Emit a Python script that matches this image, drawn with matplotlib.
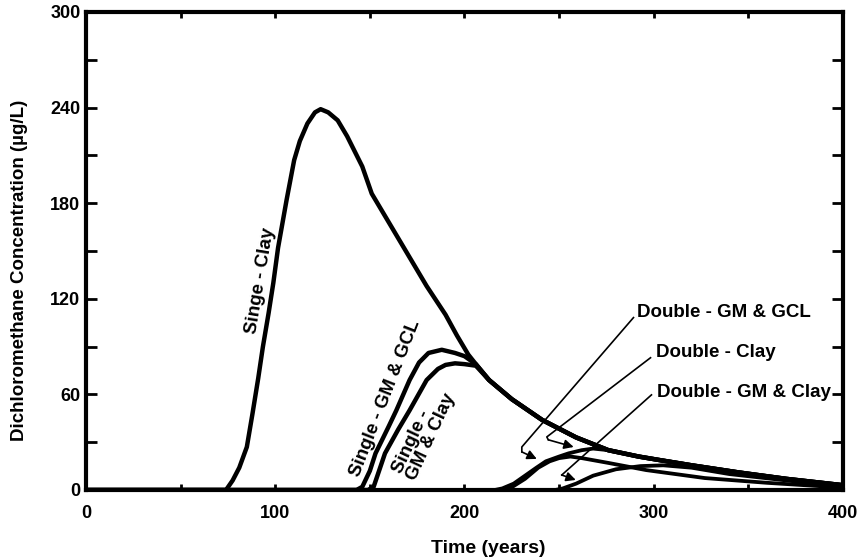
import numpy as np
import matplotlib
matplotlib.use("Agg")
import matplotlib.pyplot as plt

plt.rcParams["font.family"] = ["Liberation Sans", "DejaVu Sans"]
plt.rcParams["font.weight"] = "bold"
plt.rcParams["axes.labelweight"] = "bold"

# Single liner - clay
clay_x = [0, 74, 77.5, 81, 85, 88, 91, 93.5, 96.5, 99, 101.5, 106, 110, 113, 117, 121, 124,
          128, 133, 138, 146, 151, 160, 170, 180, 190, 196, 202, 206, 213, 225, 241, 259, 276,
          292, 302, 320, 345, 370, 400]
clay_y = [0, 0, 6, 14, 27, 48, 70, 90, 111, 130, 152, 182, 207, 219, 230, 237, 239,
          237, 232, 222, 203, 186, 168, 148, 128, 110, 97, 85, 79, 69, 57, 44, 33, 25,
          21, 19, 15.5, 11, 7, 3]

# tail shared by the single GM curves after they join the clay curve
tail_x = [213, 225, 241, 259, 276, 292, 302, 320, 345, 370, 400]
tail_y = [69, 57, 44, 33, 25, 21, 19, 15.5, 11, 7, 3]

gm_gcl_x = [0, 143, 146, 150, 153, 160, 164, 171, 176, 181, 188, 195, 200, 206]
gm_gcl_y = [0, 0, 2, 12, 23, 40, 50, 69, 80, 86, 88, 86, 84, 79]

gm_clay_x = [0, 149, 152, 158, 165, 171, 180, 186, 190, 195, 200, 206]
gm_clay_y = [0, 0, 2, 23, 38, 50, 69, 76, 78.5, 79.5, 79, 78]

# double liners
d_gcl_x = [0, 216, 220, 226, 232, 238, 243, 250, 255, 262, 268, 276, 292, 302, 320, 345, 370, 400]
d_gcl_y = [0, 0, 1, 4, 9, 14, 18, 21, 23, 25, 26, 25, 21, 19, 15.5, 11, 7, 3]

d_clay_x = [0, 220, 224, 232, 239, 245, 250, 256, 262, 276, 296, 327, 360, 400]
d_clay_y = [0, 0, 1, 7, 14, 18, 20, 21, 20, 17, 12.5, 7.5, 4.5, 1.5]

d_gmclay_x = [0, 248, 252, 259, 268, 280, 293, 305, 320, 340, 370, 400]
d_gmclay_y = [0, 0, 1, 4, 9, 13, 15, 15.5, 14, 10, 6, 2]


def main():
    fig = plt.figure(figsize=(8.58, 5.6), dpi=100)
    ax = fig.add_axes([0.1002, 0.125, 0.8823, 0.8536])

    lw = 3.2
    ax.plot(clay_x, clay_y, color="black", lw=lw, solid_joinstyle="round")
    ax.plot(gm_gcl_x + tail_x, gm_gcl_y + tail_y, color="black", lw=lw, solid_joinstyle="round")
    ax.plot(gm_clay_x + tail_x, gm_clay_y + tail_y, color="black", lw=lw, solid_joinstyle="round")
    ax.plot(d_gcl_x, d_gcl_y, color="black", lw=lw * 0.85, solid_joinstyle="round")
    ax.plot(d_clay_x, d_clay_y, color="black", lw=lw * 0.85, solid_joinstyle="round")
    ax.plot(d_gmclay_x, d_gmclay_y, color="black", lw=lw * 0.85, solid_joinstyle="round")

    ax.set_xlim(0, 400)
    ax.set_ylim(0, 300)
    ax.set_xticks([0, 100, 200, 300, 400])
    ax.set_xticks([50, 150, 250, 350], minor=True)
    ax.set_yticks([0, 60, 120, 180, 240, 300])
    ax.set_yticks([30, 90, 150, 210, 270], minor=True)

    for s in ax.spines.values():
        s.set_linewidth(3)
    ax.tick_params(axis="both", which="both", direction="in", top=True, right=True,
                   width=2, labelsize=13)
    ax.tick_params(axis="x", which="both", length=4, pad=11)
    ax.tick_params(axis="y", which="both", length=8, pad=4)

    ax.set_xlabel("Time (years)", fontsize=14)
    ax.xaxis.set_label_coords(0.531, -0.105)
    ax.set_ylabel("Dichloromethane Concentration (\u00b5g/L)", fontsize=13.5)
    ax.yaxis.set_label_coords(-0.076, 0.46)

    fs = 13.5
    # curve labels
    ax.text(92.2, 131, "Singe - Clay", rotation=80.5, rotation_mode="anchor",
            ha="center", va="center", fontsize=fs)
    ax.text(158.1, 57.6, "Single - GM & GCL", rotation=68.7, rotation_mode="anchor",
            ha="center", va="center", fontsize=fs)
    ax.text(178.7, 35.7, "Single -\nGM & Clay", rotation=65, rotation_mode="anchor",
            ha="center", va="center", fontsize=fs, multialignment="left", linespacing=0.95)

    # leader lines with bent arrows
    leaders = [
        ("Double - GM & GCL", (291, 111.6), [(289.3, 108.2), (230.3, 27), (230.3, 23.9)], (238.2, 19.5)),
        ("Double - Clay", (301, 86), [(298.3, 83), (243.5, 33.3), (244.3, 31.5)], (257.7, 27)),
        ("Double - GM & Clay", (301.5, 61), [(298.8, 59.7), (251.4, 9.4)], (258.8, 6.3)),
    ]
    for label, tpos, pts, tip in leaders:
        ax.text(tpos[0], tpos[1], label, ha="left", va="center", fontsize=fs)
        px = [p[0] for p in pts]
        py = [p[1] for p in pts]
        ax.plot(px, py, color="black", lw=1.2)
        ax.annotate("", xy=tip, xytext=pts[-1],
                    arrowprops=dict(arrowstyle="-|>", color="black", lw=1.2,
                                    mutation_scale=14, shrinkA=0, shrinkB=0))

    fig.savefig("out.png", dpi=100)


if __name__ == "__main__":
    main()
